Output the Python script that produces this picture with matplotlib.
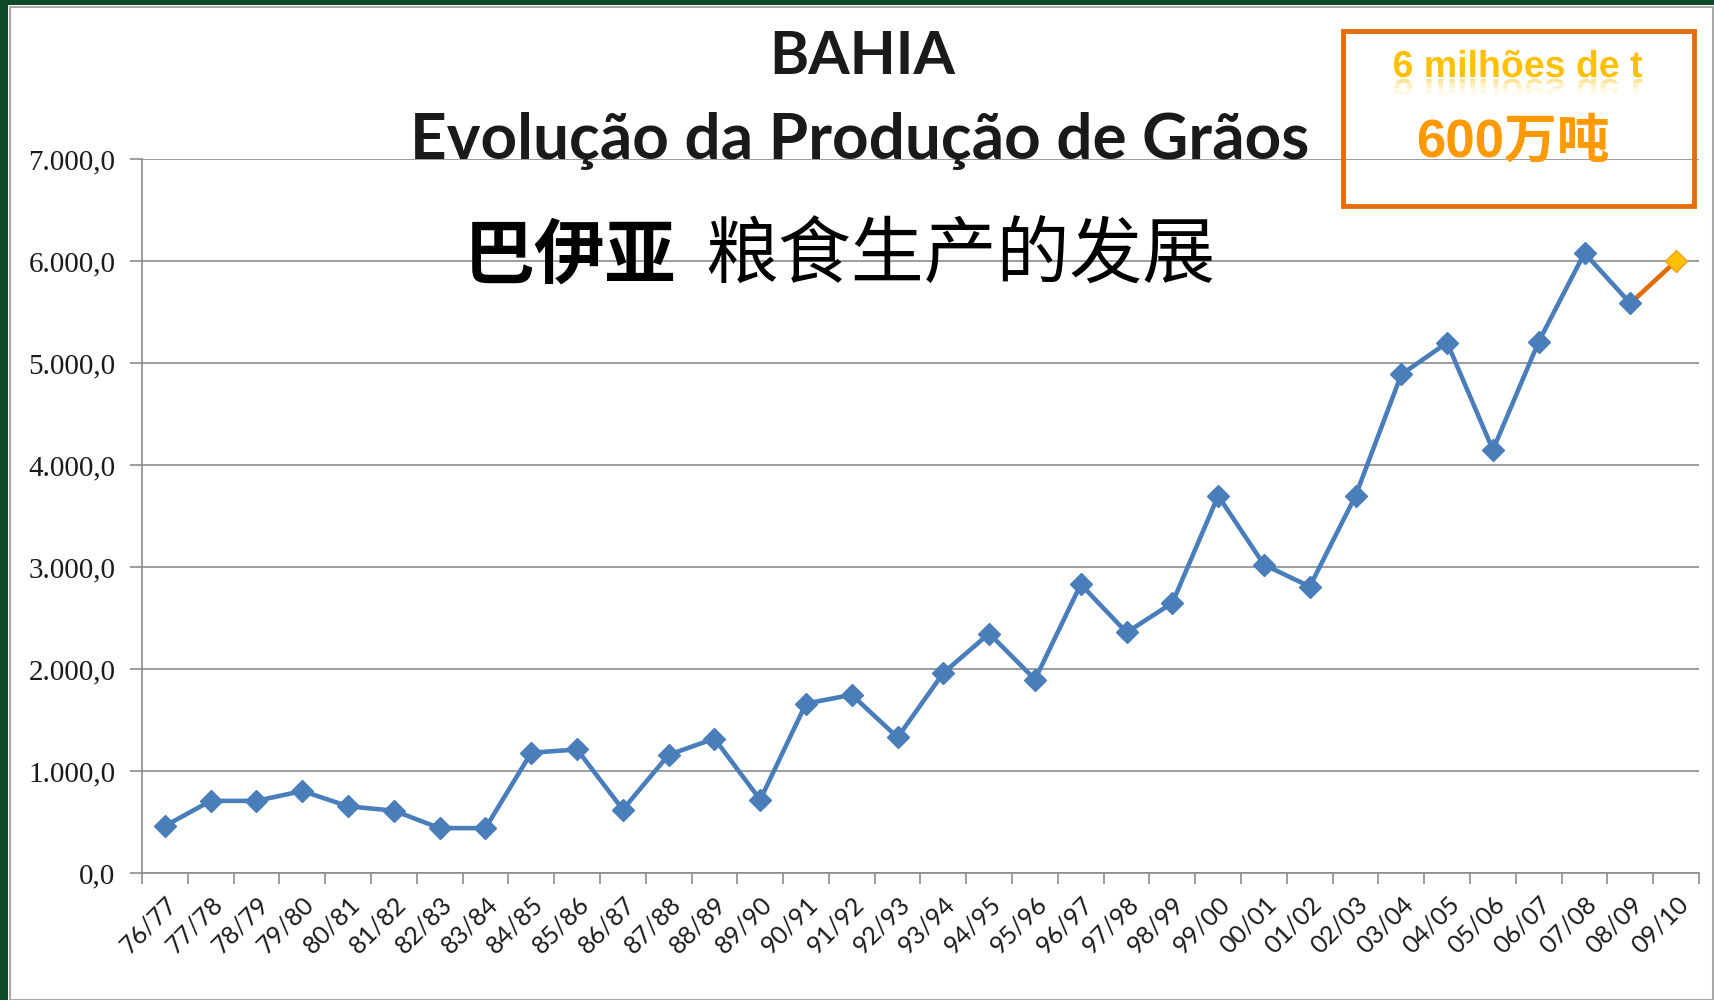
import matplotlib
matplotlib.use("Agg")
import matplotlib.pyplot as plt
from matplotlib.patches import Rectangle, PathPatch
from matplotlib.ticker import FuncFormatter, FixedLocator
from matplotlib.textpath import TextPath
from matplotlib.font_manager import FontProperties
from matplotlib.transforms import Affine2D, IdentityTransform, Bbox

seasons = ["76/77", "77/78", "78/79", "79/80", "80/81", "81/82", "82/83", "83/84",
           "84/85", "85/86", "86/87", "87/88", "88/89", "89/90", "90/91", "91/92",
           "92/93", "93/94", "94/95", "95/96", "96/97", "97/98", "98/99", "99/00",
           "00/01", "01/02", "02/03", "03/04", "04/05", "05/06", "06/07", "07/08",
           "08/09", "09/10"]
production = [461, 707, 707, 804, 654, 611, 440, 440,
              1179, 1211, 622, 1158, 1318, 718, 1661, 1747,
              1329, 1962, 2348, 1897, 2830, 2358, 2648, 3698,
              3023, 2808, 3698, 4888, 5199, 4148, 5210, 6078,
              5585]
forecast_value = 6000
y_ticks = [0, 1000, 2000, 3000, 4000, 5000, 6000, 7000]

W, H = 1715, 1000
fig = plt.figure(figsize=(W / 100, H / 100), dpi=100)
fig.patch.set_facecolor("white")

def fx(px):
    return px / W

def fy(py):
    return 1 - py / H

# frame decoration
fig.patches.append(Rectangle((0, 0), fx(8), 1, transform=fig.transFigure,
                             facecolor="#0C4A28", edgecolor="none", zorder=0))
fig.patches.append(Rectangle((0, fy(5)), 1, fy(0) - fy(5), transform=fig.transFigure,
                             facecolor="#0C4A28", edgecolor="none", zorder=0))
fig.patches.append(Rectangle((fx(10), fy(1000)), fx(1713) - fx(10), fy(7) - fy(1000),
                             transform=fig.transFigure, facecolor="none",
                             edgecolor="#A8A8A8", linewidth=1.5, zorder=0))

ax = fig.add_axes([fx(142), fy(873), fx(1699) - fx(142), fy(159) - fy(873)])
ax.set_facecolor("none")

n = len(production)
xs = list(range(n))
ax.plot(xs, production, color="#4A7EBB", linewidth=3.3, marker="D",
        markersize=11, markerfacecolor="#4A7EBB", markeredgecolor="#4A7EBB",
        zorder=3)
ax.plot([n - 1, n], [production[-1], forecast_value], color="#E36C0A",
        linewidth=3.3, zorder=2)
ax.plot([n], [forecast_value], linestyle="none", marker="D", markersize=11,
        markerfacecolor="#FFC000", markeredgecolor="#F0A020", markeredgewidth=1,
        zorder=4)

ax.set_xlim(-0.5, len(seasons) - 0.5)
ax.set_ylim(0, 7000)
ax.set_yticks(y_ticks)
ax.yaxis.set_major_formatter(FuncFormatter(
    lambda v, p: f"{int(v):,}".replace(",", ".") + ",0"))
ax.grid(axis="y", color="#8C8C8C", linewidth=1.2)
ax.set_axisbelow(True)

ax.set_xticks(range(len(seasons)))
ax.set_xticklabels(seasons, rotation=45, ha="right", va="top",
                   rotation_mode="anchor", fontsize=18, family="Lato",
                   color="#1a1a1a")
ax.tick_params(axis="x", which="major", length=0, pad=14)
ax.xaxis.set_minor_locator(FixedLocator([i - 0.5 for i in range(len(seasons) + 1)]))
ax.tick_params(axis="x", which="minor", length=8, width=1.2, color="#8C8C8C",
               direction="out")
ax.tick_params(axis="y", length=9, width=1.2, color="#8C8C8C", pad=10,
               labelsize=21)
for lab in ax.get_yticklabels():
    lab.set_family("Liberation Serif")
    lab.set_color("#1a1a1a")

for s in ["top", "right"]:
    ax.spines[s].set_visible(False)
for s in ["left", "bottom"]:
    ax.spines[s].set_color("#8C8C8C")
    ax.spines[s].set_linewidth(1.2)

# titles
fig.text(fx(862), fy(57), "BAHIA", ha="center", va="center", fontsize=43,
         fontweight="bold", family="Lato", color="#1a1a1a")
fig.text(fx(860), fy(141), "Evolução da Produção de Grãos", ha="center",
         va="center", fontsize=46, fontweight="bold", family="Lato",
         color="#1a1a1a")
fig.text(fx(464), fy(257), "巴伊亚", ha="left", va="center", fontsize=51,
         fontweight="bold", family=["Noto Sans CJK SC", "DejaVu Sans"],
         color="black")
fig.text(fx(705), fy(257), "粮食生产的发展", ha="left", va="center",
         fontsize=52.5, family=["Noto Sans CJK SC", "DejaVu Sans"], color="black")

# annotation box
fig.patches.append(Rectangle((fx(1343), fy(206)), fx(1694) - fx(1343),
                             fy(31) - fy(206), transform=fig.transFigure,
                             facecolor="none", edgecolor="#E46C0A",
                             linewidth=3.5, zorder=5))

# "6 milhões de t" with a faint reflection
label_txt = "6 milhões de t"
tp = TextPath((0, 0), label_txt, size=27 * 100 / 72,
              prop=FontProperties(family="Liberation Sans", weight="bold"))
ext = tp.get_extents()
cx, base_py = 1518, 77
x0 = cx - (ext.x0 + ext.x1) / 2
base_y = H - base_py
fig.patches.append(PathPatch(tp, transform=Affine2D().translate(x0, base_y) + IdentityTransform(),
                             facecolor="#FFC000", edgecolor="none", zorder=6))
for top_off, bot_off, alpha in [(1, 6, 0.40), (6, 11, 0.22), (11, 17, 0.10)]:
    refl = PathPatch(tp, transform=Affine2D().scale(1, -1).translate(x0, base_y - 2)
                     + IdentityTransform(), facecolor="#FFC000", edgecolor="none",
                     alpha=alpha, zorder=6)
    refl.set_clip_box(Bbox([[x0 - 5, base_y - bot_off], [x0 + ext.x1 + 5, base_y - top_off]]))
    refl.set_clip_on(True)
    fig.patches.append(refl)

fig.text(fx(1513), fy(143), "600万吨", ha="center", va="center", fontsize=38,
         fontweight="bold", family=["Liberation Sans", "Noto Sans CJK SC"],
         color="#FF9900")

fig.savefig("out.png", dpi=100)
